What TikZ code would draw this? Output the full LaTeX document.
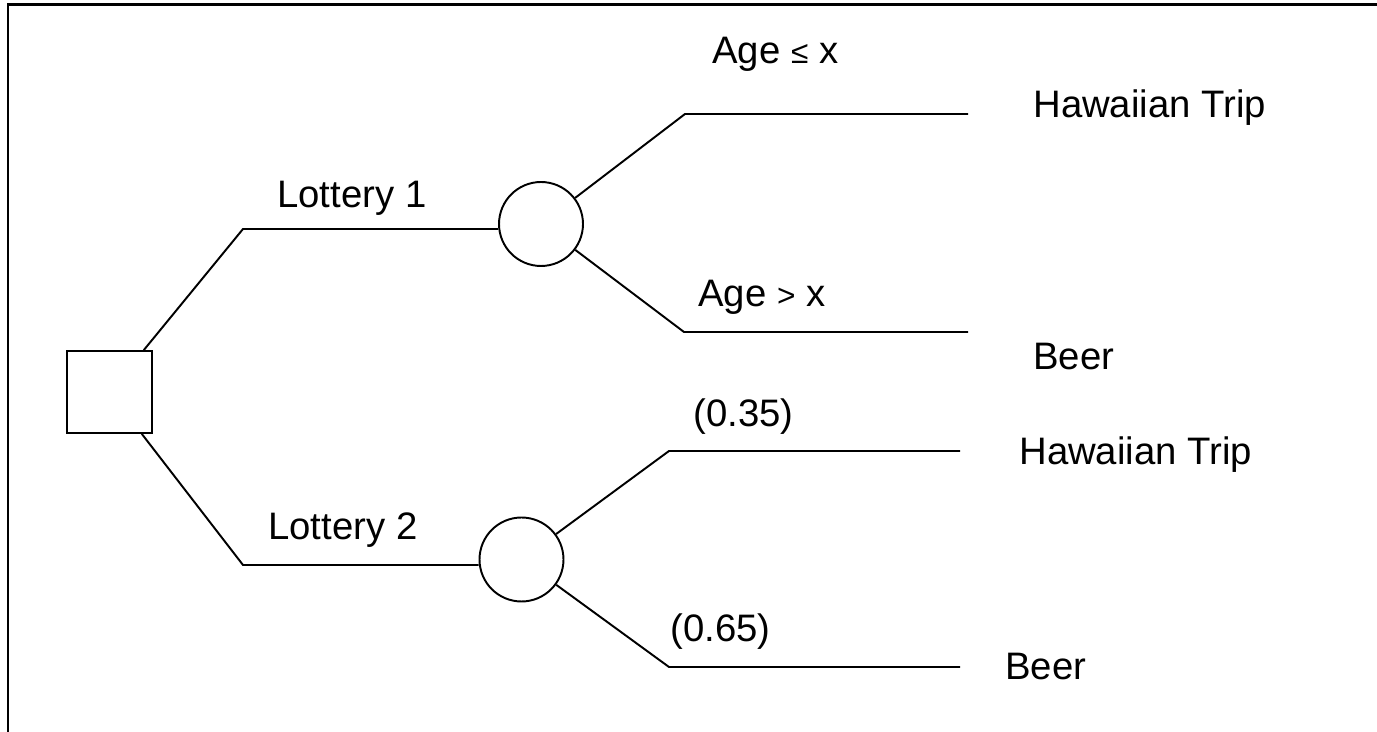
\documentclass[tikz,border=0pt]{standalone}
\usepackage{fontspec}
\setmainfont{Liberation Sans}
\usetikzlibrary{positioning}

% smaller relation sign inside the age labels
\newcommand{\smallrel}[1]{{\fontsize{18}{18}\selectfont #1}}

\tikzset{
    branch/.style={line width=1.1pt},
    decision/.style={draw, rectangle, line width=1.1pt, inner sep=0pt,
        minimum width=1.7cm, minimum height=1.64cm},
    chance/.style={draw, circle, line width=1.1pt, inner sep=0pt, minimum size=1.68cm},
    lbl/.style={anchor=base west, inner sep=0pt, font=\fontsize{21.8}{26}\selectfont}
}

\begin{document}
\begin{tikzpicture}[x=0.02cm, y=-0.02cm]
    \useasboundingbox (0,0) rectangle (1377,732);
    \draw[line width=1.7pt] (1400,5) -- (8,5) -- (8,760);

    \node[decision] (dec) at (109.5,392) {};
    \node[chance] (ch1) at (541,224) {};
    \node[chance] (ch2) at (521.5,559.5) {};

    \coordinate (a1) at (243,229);
    \coordinate (a2) at (243,565);
    \coordinate (b1) at (685,114);
    \coordinate (e1) at (968,114);
    \coordinate (b2) at (684,332);
    \coordinate (e2) at (968,332);
    \coordinate (b3) at (669,451);
    \coordinate (e3) at (960,451);
    \coordinate (b4) at (669,667);
    \coordinate (e4) at (960,667);

    % the two lotteries
    \draw[branch] (dec) -- (a1) -- (a1 -| ch1.west);
    \draw[branch] (dec) -- (a2) -- (a2 -| ch2.west);

    % outcomes
    \draw[branch] (ch1) -- (b1) -- (e1);
    \draw[branch] (ch1) -- (b2) -- (e2);
    \draw[branch] (ch2) -- (b3) -- (e3);
    \draw[branch] (ch2) -- (b4) -- (e4);

    \node[lbl] (lot1) at (277,208) {Lottery 1};
    \node[lbl] (lot2) at (268,540) {Lottery 2};
    \node[lbl] (age1) at (712,64) {Age \smallrel{≤} x};
    \node[lbl] (age2) at (698,307) {Age \smallrel{>} x};
    \node[lbl] (p1) at (693,427) {(0.35)};
    \node[lbl] (p2) at (670,642) {(0.65)};

    \node[lbl] (trip1) at (1033,118) {Hawaiian Trip};
    \node[lbl] (beer1) at (1033,370) {Beer};
    \node[lbl] (trip2) at (1019,465) {Hawaiian Trip};
    \node[lbl] (beer2) at (1005,680) {Beer};
\end{tikzpicture}
\end{document}
